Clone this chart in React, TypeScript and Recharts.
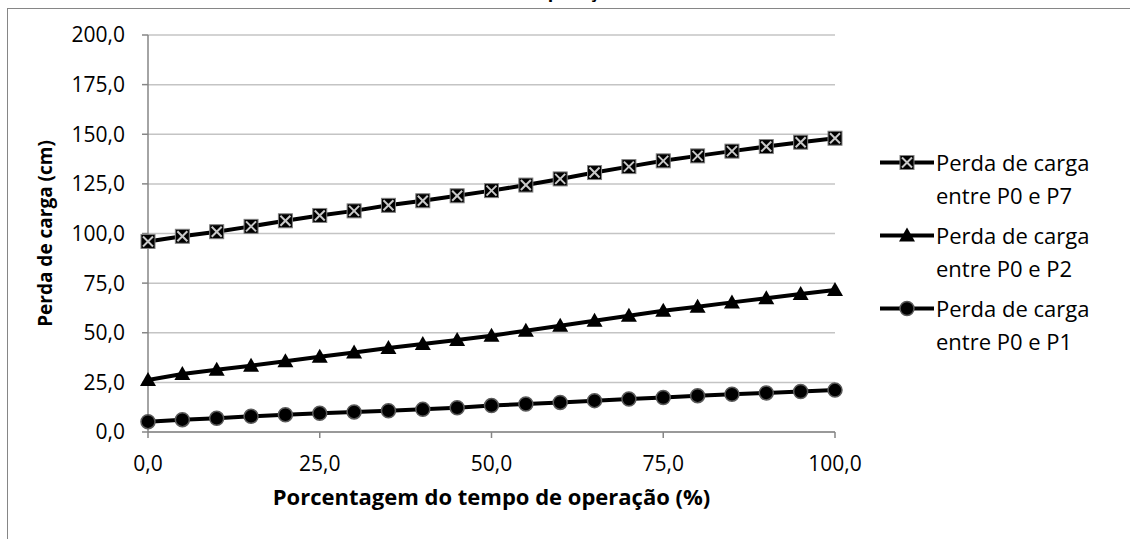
import { LineChart, Line, XAxis, YAxis, CartesianGrid } from 'recharts';

// eixo x: porcentagem do tempo de operação
const PCT = [0, 5, 10, 15, 20, 25, 30, 35, 40, 45, 50, 55, 60, 65, 70, 75, 80, 85, 90, 95, 100];
const P07 = [96.0, 98.6, 100.9, 103.6, 106.4, 109.1, 111.4, 114.2, 116.5, 119.0, 121.6, 124.4, 127.5, 130.7, 133.7, 136.6, 139.1, 141.5, 143.8, 146.0, 148.0];
const P02 = [26.2, 29.2, 31.4, 33.4, 35.6, 37.9, 40.1, 42.3, 44.3, 46.3, 48.5, 51.0, 53.5, 56.0, 58.6, 61.1, 63.1, 65.3, 67.4, 69.5, 71.5];
const P01 = [5.2, 6.2, 6.9, 7.9, 8.7, 9.4, 10.1, 10.7, 11.4, 12.2, 13.3, 14.1, 14.9, 15.8, 16.6, 17.4, 18.3, 19.0, 19.7, 20.4, 21.1];
const X_TICKS = [0, 25, 50, 75, 100];
const Y_TICKS = [0, 25, 50, 75, 100, 125, 150, 175, 200];
const SERIES = [
  { key: 'p7', name: 'Perda de carga entre P0 e P7', shape: 'xsquare' },
  { key: 'p2', name: 'Perda de carga entre P0 e P2', shape: 'triangle' },
  { key: 'p1', name: 'Perda de carga entre P0 e P1', shape: 'circle' },
];

const FONT = '"Open Sans", sans-serif';
const AXIS = '#868686';
const GRID = '#c4c4c4';

const data = PCT.map((x, i) => ({ x, p7: P07[i], p2: P02[i], p1: P01[i] }));

const fmt = (v: number) => v.toFixed(1).replace('.', ',');

function Marker({ shape, cx, cy }: { shape: string; cx: number; cy: number }) {
  if (shape === 'xsquare') {
    return (
      <g>
        <rect x={cx - 7} y={cy - 7} width={14} height={14} fill="#000" stroke="#808080" strokeWidth={1} />
        <line x1={cx - 5} y1={cy - 5} x2={cx + 5} y2={cy + 5} stroke="#c8c8c8" strokeWidth={2} />
        <line x1={cx - 5} y1={cy + 5} x2={cx + 5} y2={cy - 5} stroke="#c8c8c8" strokeWidth={2} />
      </g>
    );
  }
  if (shape === 'triangle') {
    return <polygon points={`${cx},${cy - 8} ${cx + 8},${cy + 6} ${cx - 8},${cy + 6}`} fill="#000" />;
  }
  return <circle cx={cx} cy={cy} r={7} fill="#000" stroke="#5a5a5a" strokeWidth={1.5} />;
}

function LegendBox() {
  return (
    <div style={{ position: 'absolute', left: 878, top: 145.5, fontFamily: FONT, fontSize: 22, color: '#000' }}>
      {SERIES.map((s) => {
        const words = s.name.split(' ');
        return (
          <div key={s.key} style={{ display: 'flex', alignItems: 'flex-start', marginBottom: 7 }}>
            <svg width={58} height={33} style={{ flex: 'none' }}>
              <line x1={2} y1={16.5} x2={56} y2={16.5} stroke="#000" strokeWidth={4} />
              <Marker shape={s.shape} cx={29} cy={16.5} />
            </svg>
            <div style={{ lineHeight: '33px', whiteSpace: 'nowrap' }}>
              <div>{words.slice(0, 3).join(' ')}</div>
              <div>{words.slice(3).join(' ')}</div>
            </div>
          </div>
        );
      })}
    </div>
  );
}

export default function App() {
  return (
    <div style={{ position: 'fixed', left: 0, top: 0, width: 1130, height: 539, overflow: 'hidden', background: '#fff', fontFamily: FONT }}>
      {/* moldura do gráfico, cortada na imagem */}
      <div style={{ position: 'absolute', left: 7, top: 8, width: 1200, height: 600, borderLeft: `1px solid ${AXIS}`, borderTop: `1px solid ${AXIS}` }} />
      {/* título cortado no topo */}
      <div style={{ position: 'absolute', left: 0, top: 0, width: 1130, height: 7, overflow: 'hidden' }}>
        <span style={{ position: 'absolute', right: 510, top: -21, fontSize: 18, fontWeight: 700, whiteSpace: 'nowrap' }}>operação</span>
      </div>
      <div style={{ position: 'absolute', left: 0, top: 0 }}>
        <LineChart width={1130} height={539} data={data} margin={{ top: 35, right: 295, bottom: 0, left: 0 }}>
          <CartesianGrid vertical={false} stroke={GRID} strokeWidth={1.5} />
          <XAxis
            dataKey="x"
            type="number"
            domain={[0, 100]}
            ticks={X_TICKS}
            tickFormatter={fmt}
            height={107}
            stroke={AXIS}
            strokeWidth={1.5}
            tickSize={6}
            tickMargin={18}
            tick={{ fill: '#000', fontSize: 21, fontFamily: FONT }}
            label={{ value: 'Porcentagem do tempo de operação (%)', position: 'insideTop', offset: 57, fill: '#000', fontSize: 22, fontWeight: 700, fontFamily: FONT }}
          />
          <YAxis
            type="number"
            domain={[0, 200]}
            ticks={Y_TICKS}
            tickFormatter={fmt}
            width={148}
            stroke={AXIS}
            strokeWidth={1.5}
            tickSize={6}
            tickMargin={17}
            tick={{ fill: '#000', fontSize: 21, fontFamily: FONT }}
            label={{ value: 'Perda de carga (cm)', angle: -90, position: 'insideLeft', offset: 45, fill: '#000', fontSize: 19, fontWeight: 700, fontFamily: FONT, style: { textAnchor: 'middle' } }}
          />
          {SERIES.map((s) => (
            <Line
              key={s.key}
              dataKey={s.key}
              name={s.name}
              stroke="#000"
              strokeWidth={4}
              isAnimationActive={false}
              dot={(p: any) => <Marker key={`${s.key}-${p.index}`} shape={s.shape} cx={p.cx} cy={p.cy} />}
              activeDot={false}
            />
          ))}
        </LineChart>
      </div>
      <LegendBox />
    </div>
  );
}
